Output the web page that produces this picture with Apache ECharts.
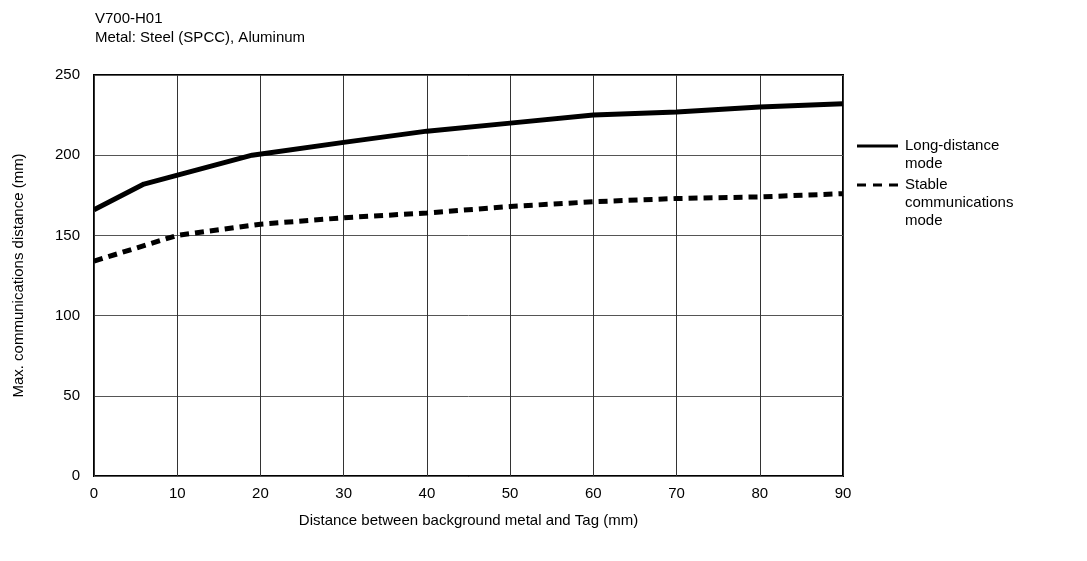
<!DOCTYPE html>
<html>
<head>
<meta charset="utf-8">
<script src="https://cdn.jsdelivr.net/npm/echarts@6/dist/echarts.min.js"></script>
<style>
  html, body { margin: 0; padding: 0; background: #fff; }
  #chart { width: 1087px; height: 561px; }
</style>
</head>
<body>
<div id="chart"></div>
<script>
// distance between background metal and tag (mm) -> max comm distance (mm)
const longX = [0, 6, 19, 30, 40, 50, 60, 70, 80, 90];
const longY = [166, 182, 200, 208, 215, 220, 225, 227, 230, 232];
const stableX = [0, 10, 20, 30, 40, 50, 60, 70, 80, 90];
const stableY = [134, 150, 157, 161, 164, 168, 171, 173, 174, 176];

const FONT = '"Liberation Sans", Arial, sans-serif';

const pairs = (xs, ys) => xs.map((x, i) => [x, ys[i]]);

const chart = echarts.init(document.getElementById('chart'));

chart.setOption({
  animation: false,
  textStyle: { fontFamily: FONT, color: '#000' },
  title: {
    text: 'V700-H01\nMetal: Steel (SPCC), Aluminum',
    left: 90,
    top: 4,
    textStyle: { fontFamily: FONT, fontSize: 15, fontWeight: 'normal', color: '#000', lineHeight: 19 }
  },
  grid: {
    left: 94, right: 244, top: 75, bottom: 85,
    show: true, borderColor: '#000', borderWidth: 2
  },
  xAxis: {
    type: 'value',
    min: 0, max: 90, interval: 10,
    name: 'Distance between background metal and Tag (mm)',
    nameLocation: 'middle',
    nameGap: 37,
    nameTextStyle: { fontFamily: FONT, fontSize: 15, color: '#000' },
    axisLine: { show: false },
    axisTick: { show: false },
    axisLabel: { fontFamily: FONT, fontSize: 15, color: '#000', margin: 10 },
    splitLine: { lineStyle: { color: '#333', width: 1 } }
  },
  yAxis: {
    type: 'value',
    min: 0, max: 250, interval: 50,
    name: 'Max. communications distance (mm)',
    nameLocation: 'middle',
    nameGap: 68,
    nameTextStyle: { fontFamily: FONT, fontSize: 15, color: '#000' },
    axisLine: { show: false },
    axisTick: { show: false },
    axisLabel: { fontFamily: FONT, fontSize: 15, color: '#000', margin: 14 },
    splitLine: { lineStyle: { color: '#555', width: 1 } }
  },
  series: [
    {
      name: 'Long-distance mode',
      type: 'line',
      data: pairs(longX, longY),
      symbol: 'none',
      lineStyle: { color: '#000', width: 5 }
    },
    {
      name: 'Stable communications mode',
      type: 'line',
      data: pairs(stableX, stableY),
      symbol: 'none',
      lineStyle: { color: '#000', width: 5, type: [9, 6] }
    }
  ],
  graphic: [
    { type: 'line', shape: { x1: 857, y1: 146, x2: 898, y2: 146 }, style: { stroke: '#000', lineWidth: 3 } },
    { type: 'text', left: 905, top: 137, style: { text: 'Long-distance\nmode', font: '15px ' + FONT, fill: '#000', lineHeight: 18 } },
    { type: 'line', shape: { x1: 857, y1: 185, x2: 898, y2: 185 }, style: { stroke: '#000', lineWidth: 3, lineDash: [9, 7] } },
    { type: 'text', left: 905, top: 176, style: { text: 'Stable\ncommunications\nmode', font: '15px ' + FONT, fill: '#000', lineHeight: 18 } }
  ]
});
</script>
</body>
</html>
